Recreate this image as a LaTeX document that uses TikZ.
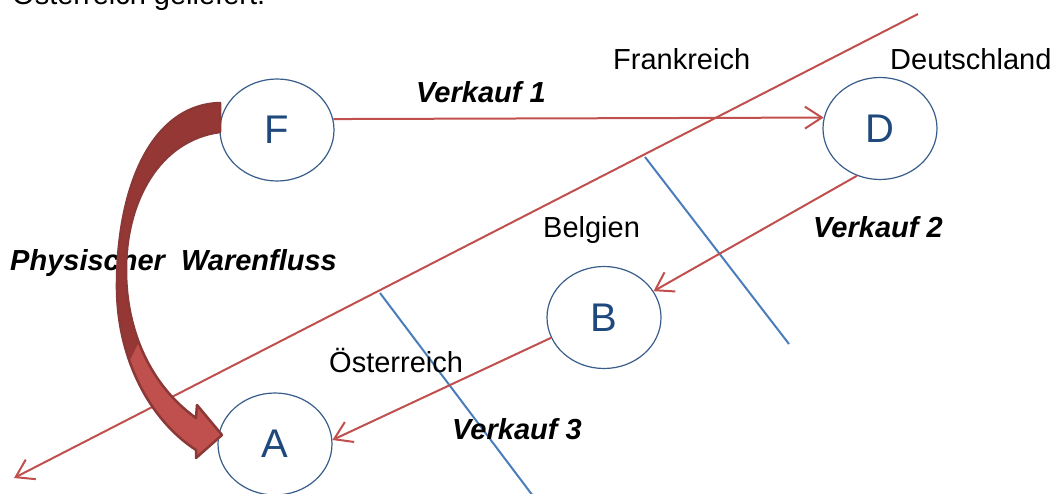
\documentclass[tikz,border=0pt]{standalone}
\usepackage{fontspec}
\setmainfont{Liberation Sans}
\usetikzlibrary{arrows.meta,shapes.geometric}
\definecolor{linered}{HTML}{C0504D}
\definecolor{lineblue}{HTML}{4A7EBB}
\definecolor{rimblue}{HTML}{385D8A}
\definecolor{letterblue}{HTML}{1F497D}
\definecolor{flowdark}{HTML}{953735}
\definecolor{flowlight}{HTML}{C0504D}
\definecolor{flowedge}{HTML}{8C3836}

\begin{document}
\begin{tikzpicture}[x=1pt,y=-1pt,
  country/.style={ellipse,draw=rimblue,line width=1.2pt,minimum width=114pt,
    minimum height=102pt,inner sep=0pt,text=letterblue,
    font=\fontsize{40}{40}\selectfont},
  lbl/.style={anchor=base west,inner sep=0pt,font=\fontsize{29}{29}\selectfont},
  sale/.style={anchor=base west,inner sep=0pt,
    font=\fontsize{29}{29}\selectfont\bfseries\itshape},
  trade/.style={draw=linered,line width=2pt,
    -{Straight Barb[length=17pt,width=22pt]}},
  border/.style={draw=lineblue,line width=2pt}
]
% canvas
\clip (0,0) rectangle (1051,494);

% heading line running off the top edge
\node[lbl] (head) at (12,5) {Österreich geliefert.};

% main dividing line with its arrow at the lower left
\coordinate (divtop) at (918,14);
\coordinate (divend) at (14,478);
\draw[trade] (divtop) -- (divend);

% blue border lines
\coordinate (b1a) at (645,157);
\coordinate (b1b) at (789,344);
\coordinate (b2a) at (380,293);
\coordinate (b2b) at (533,496);
\draw[border] (b1a) -- (b1b);
\draw[border] (b2a) -- (b2b);

% countries
\node[country] (F) at (277,130) {F};
\node[country] (D) at (880,128.5) {D};
\node[country] (B) at (604,317.5) {B};
\node[country] (A) at (275,444) {A};

% sales
\draw[trade] (F.11) -- (D.169);
\draw[trade] (D.244) -- (B.28);
\draw[trade] (B.201) -- (A.4);

% labels
\node[lbl] (lfr) at (613,70) {Frankreich};
\node[lbl] (lde) at (890,70) {Deutschland};
\node[lbl] (lbe) at (543,237) {Belgien};
\node[lbl] (lat) at (329,372) {Österreich};
\node[sale] (v1) at (416,103) {Verkauf 1};
\node[sale] (v2) at (813,237) {Verkauf 2};
\node[sale] (v3) at (452,439) {Verkauf 3};
\node[sale] (pw) at (10,270) {Physischer\ \ Warenfluss};

% physical flow of goods: curved block arrow from F to A
\def\flowpath{(220,103) .. controls (150,105) and (116,190) .. (117,290)
  .. controls (118,360) and (150,420) .. (196,450) -- (196,458) -- (222,435)
  -- (197,405) -- (196,418) .. controls (150,385) and (126,330) .. (126,270)
  .. controls (126,200) and (160,140) .. (220,132) -- cycle}
\fill[flowdark] \flowpath;
\begin{scope}
  \clip (100,420) -- (150,320) -- (300,320) -- (300,494) -- (100,494) -- cycle;
  \fill[flowlight] \flowpath;
\end{scope}
\draw[flowedge,line width=2.5pt,line join=round] \flowpath;
\end{tikzpicture}
\end{document}
